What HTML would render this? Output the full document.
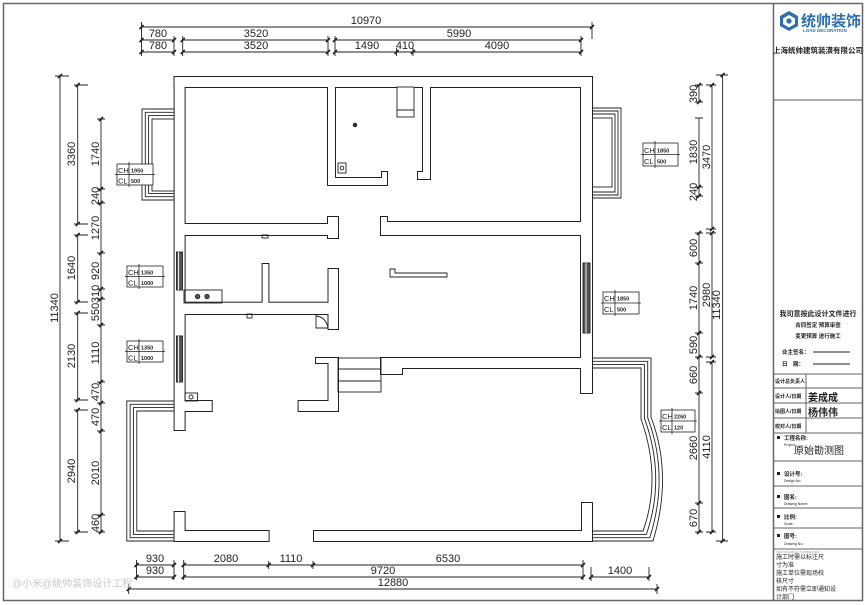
<!DOCTYPE html>
<html><head><meta charset="utf-8"><style>
html,body{margin:0;padding:0;background:#fff}
svg{display:block}
text{font-family:"Liberation Sans Narrow","Liberation Sans",sans-serif;fill:#222}
.cj{font-family:"Liberation Sans","Noto Sans CJK SC",sans-serif}
</style></head><body>
<svg width="865" height="605" viewBox="0 0 865 605" xmlns="http://www.w3.org/2000/svg">
<rect x="0" y="0" width="865" height="605" fill="#fff"/>
<rect x="3.5" y="3.5" width="859" height="597" fill="none" stroke="#666" stroke-width="1.5"/>
<line x1="773.5" y1="3.5" x2="773.5" y2="600.5" stroke="#666" stroke-width="1.5"/>

<!-- TOP DIMENSIONS -->
<g stroke="#222" stroke-width="0.9" fill="none">
<line x1="141.5" y1="27" x2="592" y2="27"/>
<line x1="592" y1="22" x2="592" y2="39"/>
<line x1="141.5" y1="22" x2="141.5" y2="56"/>
<line x1="141.5" y1="40" x2="174" y2="40"/><line x1="182.7" y1="40" x2="328" y2="40"/><line x1="335" y1="40" x2="581" y2="40"/>
<line x1="141.5" y1="52" x2="174" y2="52"/><line x1="182.7" y1="52" x2="328" y2="52"/><line x1="335" y1="52" x2="581" y2="52"/>
<g stroke-width="1.6">
<path d="M139.5 29l4-4M590 29l4-4M139.5 42l4-4M172 42l4-4M180.7 42l4-4M326 42l4-4M333 42l4-4M579 42l4-4M139.5 54l4-4M172 54l4-4M180.7 54l4-4M326 54l4-4M333 54l4-4M394.6 54l4-4M411 54l4-4M579 54l4-4"/>
</g>
<path d="M174 36v20M182.7 36v20M328 36v20M335 36v20M581 36v20M396.6 48v8M413 48v8"/>
</g>
<g font-size="11" text-anchor="middle">
<text x="366" y="24">10970</text>
<text x="158" y="37">780</text><text x="256" y="37">3520</text><text x="459" y="37">5990</text>
<text x="158" y="49">780</text><text x="256" y="49">3520</text><text x="367" y="49">1490</text><text x="405" y="49">410</text><text x="497" y="49">4090</text>
</g>

<!-- LEFT DIMENSIONS -->
<g stroke="#222" stroke-width="0.9" fill="none">
<line x1="60" y1="76" x2="60" y2="541"/>
<path d="M55 76h14M55 541h14"/>
<line x1="77.7" y1="85" x2="77.7" y2="224"/><line x1="77.7" y1="235" x2="77.7" y2="302"/><line x1="77.7" y1="313" x2="77.7" y2="400"/><line x1="77.7" y1="410" x2="77.7" y2="532"/>
<path d="M74 85h14M74 224h14M74 235h14M74 302h14M74 313h14M74 400h14M74 410h14M74 532h14"/>
<line x1="101" y1="119" x2="101" y2="532"/>
<path d="M97 119h8M97 189h8M97 203h8M97 253h8M97 289h8M97 299h8M97 325h8M97 382h8M97 403h8M97 431h8M97 515h8M97 532h8"/>
<g stroke-width="1.6"><path d="M58 78l4-4M58 543l4-4M75.7 87l4-4M75.7 226l4-4M75.7 237l4-4M75.7 304l4-4M75.7 315l4-4M75.7 402l4-4M75.7 412l4-4M75.7 534l4-4M99 121l4-4M99 191l4-4M99 205l4-4M99 255l4-4M99 291l4-4M99 301l4-4M99 327l4-4M99 384l4-4M99 405l4-4M99 433l4-4M99 517l4-4M99 534l4-4"/></g>
</g>
<g font-size="11" text-anchor="middle">
<text transform="translate(58,308) rotate(-90)">11340</text>
<text transform="translate(75,154) rotate(-90)">3360</text>
<text transform="translate(75,268) rotate(-90)">1640</text>
<text transform="translate(75,356) rotate(-90)">2130</text>
<text transform="translate(75,471) rotate(-90)">2940</text>
<text transform="translate(99,154) rotate(-90)">1740</text>
<text transform="translate(99,196) rotate(-90)">240</text>
<text transform="translate(99,228) rotate(-90)">1270</text>
<text transform="translate(99,271) rotate(-90)">920</text>
<text transform="translate(99,294) rotate(-90)">310</text>
<text transform="translate(99,312) rotate(-90)">550</text>
<text transform="translate(99,353) rotate(-90)">1110</text>
<text transform="translate(99,392) rotate(-90)">470</text>
<text transform="translate(99,417) rotate(-90)">470</text>
<text transform="translate(99,473) rotate(-90)">2010</text>
<text transform="translate(99,523) rotate(-90)">460</text>
</g>

<!-- RIGHT DIMENSIONS -->
<g stroke="#222" stroke-width="0.9" fill="none">
<line x1="722.6" y1="75" x2="722.6" y2="541"/>
<path d="M716 75h12M716 541h12"/>
<line x1="712" y1="85" x2="712" y2="229"/><line x1="712" y1="233" x2="712" y2="357"/><line x1="712" y1="362" x2="712" y2="532"/>
<path d="M706 85h10M706 229h10M706 233h10M706 357h10M706 362h10M706 532h10"/>
<line x1="699" y1="85" x2="699" y2="102"/><line x1="699" y1="118" x2="699" y2="196"/><line x1="699" y1="233" x2="699" y2="532"/>
<path d="M695 85h8M695 102h8M695 118h8M695 187h8M695 196h8M695 233h8M695 263h8M695 333h8M695 357h8M695 393h8M695 503h8M695 532h8"/>
<g stroke-width="1.6"><path d="M720.6 77l4-4M720.6 543l4-4M710 87l4-4M710 231l4-4M710 235l4-4M710 359l4-4M710 364l4-4M710 534l4-4M697 87l4-4M697 104l4-4M697 189l4-4M697 198l4-4M697 235l4-4M697 265l4-4M697 335l4-4M697 359l4-4M697 395l4-4M697 505l4-4M697 534l4-4"/></g>
</g>
<g font-size="11" text-anchor="middle">
<text transform="translate(720,305) rotate(-90)">11340</text>
<text transform="translate(710,157) rotate(-90)">3470</text>
<text transform="translate(710,295) rotate(-90)">2980</text>
<text transform="translate(710,447) rotate(-90)">4110</text>
<text transform="translate(697,94) rotate(-90)">390</text>
<text transform="translate(697,152) rotate(-90)">1830</text>
<text transform="translate(697,192) rotate(-90)">240</text>
<text transform="translate(697,248) rotate(-90)">600</text>
<text transform="translate(697,298) rotate(-90)">1740</text>
<text transform="translate(697,345) rotate(-90)">590</text>
<text transform="translate(697,375) rotate(-90)">660</text>
<text transform="translate(697,448) rotate(-90)">2660</text>
<text transform="translate(697,518) rotate(-90)">670</text>
</g>

<!-- BOTTOM DIMENSIONS -->
<g stroke="#222" stroke-width="0.9" fill="none">
<line x1="136.5" y1="565" x2="174" y2="565"/><line x1="183.7" y1="565" x2="583" y2="565"/>
<line x1="136.5" y1="577" x2="174" y2="577"/><line x1="183.7" y1="577" x2="583" y2="577"/><line x1="591" y1="577" x2="649" y2="577"/>
<line x1="128.7" y1="589" x2="657" y2="589"/>
<path d="M136.5 560v20M174 560v20M183.7 560v20M268.7 561v8M313 561v8M583 560v20M591 567v14M649 567v14M128.7 584v10M657 584v10"/>
<g stroke-width="1.6"><path d="M134.5 567l4-4M172 567l4-4M181.7 567l4-4M266.7 567l4-4M311 567l4-4M581 567l4-4M134.5 579l4-4M172 579l4-4M181.7 579l4-4M581 579l4-4M589 579l4-4M647 579l4-4M126.7 591l4-4M655 591l4-4"/></g>
</g>
<g font-size="11" text-anchor="middle">
<text x="155" y="562">930</text><text x="226" y="562">2080</text><text x="291" y="562">1110</text><text x="448" y="562">6530</text>
<text x="155" y="574">930</text><text x="383" y="574">9720</text><text x="620" y="574">1400</text>
<text x="393" y="586">12880</text>
</g>
<text x="12" y="587" font-size="10" class="cj" fill="#c8c8c8" style="fill:#c8c8c8">@小米@统帅装饰设计工程</text>

<!-- BAYS / BALCONIES -->
<g stroke="#222" stroke-width="0.9" fill="none">
<path d="M174.6 109H142V200H174.6M174.6 112.3H145.3V196.7H174.6M174.6 115.6H148.6V193.4H174.6"/>
<rect x="152" y="119" width="22.6" height="72"/>
<path d="M592 108H621V198H592M592 111H618V195H592M592 114H615V192H592"/>
<rect x="592" y="118" width="20" height="69"/>
<path d="M174.6 401H126.8V541H174.6M174.6 404.3H130.1V537.7H174.6M174.6 407.6H133.4V534.4H174.6M174.6 411H136.8V531H174.6"/>
<path d="M591 358H651V417Q673 475 653 541H591"/>
<path d="M591 361.3H647.7V417.6Q669.5 476 649.7 537.7H591"/>
<path d="M591 364.6H644.4V418.2Q666 477 646.4 534.4H591"/>
<path d="M591 368H641V419Q662 478 643 531H591"/>
</g>

<!-- WALLS: stroke pass then fill pass -->
<defs>
<g id="walls">
<rect x="174.6" y="77" width="417.4" height="10"/>
<rect x="174.6" y="77" width="10" height="353"/>
<rect x="581" y="77" width="11" height="316"/>
<rect x="174.6" y="531" width="94" height="10"/>
<rect x="314" y="531" width="278" height="10"/>
<rect x="174.6" y="512" width="10" height="29"/>
<rect x="582" y="503" width="10" height="38"/>
<rect x="328" y="87" width="7" height="98"/>
<rect x="328" y="178" width="59" height="7"/>
<rect x="382" y="172" width="5" height="13"/>
<rect x="423" y="87" width="7" height="92"/>
<rect x="418" y="172" width="12" height="7"/>
<rect x="184" y="224" width="154" height="11"/>
<rect x="328" y="217" width="10" height="21"/>
<rect x="381" y="222" width="200" height="13"/>
<rect x="381" y="217" width="6" height="18"/>
<rect x="184" y="302.7" width="144.5" height="11.3"/>
<rect x="328.5" y="269" width="9.5" height="60"/>
<rect x="262.6" y="264" width="5.8" height="39"/>
<rect x="381" y="358" width="200" height="10"/>
<rect x="381" y="368" width="21" height="6"/>
<rect x="328.5" y="358" width="9.5" height="53"/>
<rect x="298.6" y="401" width="39.4" height="10"/>
<rect x="316" y="358" width="12.5" height="5"/>
<rect x="184" y="401" width="27.7" height="10"/>
</g>
</defs>
<use href="#walls" fill="#222" stroke="#222" stroke-width="2"/>
<use href="#walls" fill="#fff" stroke="none"/>

<!-- windows -->
<g stroke="#222" stroke-width="0.9" fill="none">
<rect x="176.5" y="252" width="6" height="38" fill="#555"/>
<rect x="176.5" y="336" width="6" height="46" fill="#555"/>
<rect x="583" y="263" width="7" height="70" fill="#555"/>
<line x1="178.5" y1="252" x2="178.5" y2="290" stroke="#fff"/><line x1="178.5" y1="336" x2="178.5" y2="382" stroke="#fff"/><line x1="586" y1="263" x2="586" y2="333" stroke="#fff"/>
<!-- fixtures -->
<rect x="397" y="87" width="17" height="30" fill="#fff"/><line x1="397" y1="110" x2="414" y2="110"/>
<rect x="338" y="163" width="8" height="10"/><circle cx="342" cy="168" r="1.8"/>
<circle cx="355" cy="125" r="1.8" fill="#333"/>
<rect x="184" y="290" width="38" height="13"/>
<circle cx="197.6" cy="296.5" r="2.2" fill="#555"/><circle cx="207" cy="296.5" r="2.2" fill="#555"/>
<rect x="185" y="393" width="12.6" height="8"/><circle cx="191" cy="397" r="2"/>
<path d="M390 269H395V273H447V277H390Z"/>
<rect x="338" y="358" width="43" height="34"/>
<line x1="338" y1="369" x2="381" y2="369"/><line x1="338" y1="381" x2="381" y2="381"/>
<path d="M316 314V328H328.5M316 316Q326 317 328 328"/>
<rect x="247" y="314" width="5" height="4"/>
<rect x="262" y="235" width="6" height="3"/>
</g>

<!-- CH/CL boxes -->
<g id="b" font-size="7">
</g>
<g stroke="#222" stroke-width="0.8" fill="#fff">
<rect x="117" y="164" width="36" height="21"/><path d="M115 174.5h40M129 162v25" fill="none"/>
<rect x="127" y="266" width="36" height="21"/><path d="M125 276.5h40M139 264v25" fill="none"/>
<rect x="127" y="341" width="36" height="21"/><path d="M125 351.5h40M139 339v25" fill="none"/>
<rect x="643" y="143" width="35" height="23"/><path d="M641 154.5h39M655 141v27" fill="none"/>
<rect x="603" y="292" width="36" height="22"/><path d="M601 303h40M615 290v26" fill="none"/>
<rect x="661" y="410" width="34" height="22"/><path d="M659 421h38M672 408v26" fill="none"/>
</g>
<g font-size="7.5">
<text x="118" y="173">CH</text><text x="118" y="183.5">CL</text><text x="131" y="172.5" font-size="5.5" font-weight="bold">1950</text><text x="131" y="183" font-size="5.5" font-weight="bold">500</text>
<text x="128" y="275">CH</text><text x="128" y="285.5">CL</text><text x="141" y="274.5" font-size="5.5" font-weight="bold">1350</text><text x="141" y="285" font-size="5.5" font-weight="bold">1000</text>
<text x="128" y="350">CH</text><text x="128" y="360.5">CL</text><text x="141" y="349.5" font-size="5.5" font-weight="bold">1350</text><text x="141" y="360" font-size="5.5" font-weight="bold">1000</text>
<text x="644" y="153">CH</text><text x="644" y="164">CL</text><text x="657" y="152.5" font-size="5.5" font-weight="bold">1850</text><text x="657" y="163.5" font-size="5.5" font-weight="bold">500</text>
<text x="604" y="301">CH</text><text x="604" y="312">CL</text><text x="617" y="300.5" font-size="5.5" font-weight="bold">1850</text><text x="617" y="311.5" font-size="5.5" font-weight="bold">500</text>
<text x="662" y="419">CH</text><text x="662" y="430">CL</text><text x="674" y="418.5" font-size="5.5" font-weight="bold">2260</text><text x="674" y="429.5" font-size="5.5" font-weight="bold">120</text>
</g>

<!-- TITLE BLOCK -->
<g stroke="#666" stroke-width="1" fill="none">
<line x1="773.5" y1="100" x2="862" y2="100"/>
<line x1="773.5" y1="374" x2="862" y2="374"/>
<line x1="773.5" y1="388" x2="862" y2="388"/>
<line x1="773.5" y1="403" x2="862" y2="403"/>
<line x1="773.5" y1="418" x2="862" y2="418"/>
<line x1="773.5" y1="433" x2="862" y2="433"/>
<line x1="806" y1="374" x2="806" y2="433"/>
<line x1="773.5" y1="461" x2="862" y2="461"/>
<line x1="773.5" y1="486" x2="862" y2="486"/>
<line x1="773.5" y1="508" x2="862" y2="508"/>
<line x1="773.5" y1="528" x2="862" y2="528"/>
<line x1="773.5" y1="549" x2="862" y2="549"/>
<line x1="813" y1="352" x2="850" y2="352" stroke="#222"/>
<line x1="813" y1="364" x2="850" y2="364" stroke="#222"/>
</g>
<!-- logo -->
<g>
<polygon points="789,11 798,16 798,26 789,31 780,26 780,16" fill="#2e6fae"/>
<polygon points="789,15 795,18.5 795,24 789,27.5 783,24 783,18.5" fill="#fff"/>
<circle cx="789" cy="21" r="2.6" fill="#2e6fae"/>
</g>
<text x="801" y="26" class="cj" font-size="15" font-weight="bold" style="fill:#2e6fae">统帅装饰</text>
<text x="803" y="32" font-size="4.5" style="fill:#2e6fae" font-weight="bold">LOAD DECORATION</text>
<text x="818" y="53" class="cj" font-size="7.5" font-weight="bold" text-anchor="middle">上海统帅建筑装潢有限公司</text>
<text x="818" y="316" class="cj" font-size="7" font-weight="bold" text-anchor="middle">我司意按此设计文件进行</text>
<text x="818" y="327" class="cj" font-size="5.5" font-weight="bold" text-anchor="middle">合同签定 预算审查</text>
<text x="818" y="338" class="cj" font-size="5.5" font-weight="bold" text-anchor="middle">变更预算 进行施工</text>
<text x="782" y="354" class="cj" font-size="5.5" font-weight="bold">业主签名：</text>
<text x="782" y="366" class="cj" font-size="5.5" font-weight="bold">日　期：</text>
<text x="775" y="383" class="cj" font-size="5" font-weight="bold">设计总负责人</text>
<text x="775" y="398" class="cj" font-size="5" font-weight="bold">设计人/日期</text>
<text x="775" y="413" class="cj" font-size="5" font-weight="bold">绘图人/日期</text>
<text x="775" y="428" class="cj" font-size="5" font-weight="bold">校对人/日期</text>
<text x="808" y="401" class="cj" font-size="10" font-weight="bold">姜成成</text>
<text x="808" y="416" class="cj" font-size="10" font-weight="bold">杨伟伟</text>
<rect x="777" y="436" width="3" height="3" fill="#222"/>
<text x="784" y="440" class="cj" font-size="5.5" font-weight="bold">工程名称:</text>
<text x="784" y="446" font-size="3.5">Project:</text>
<text x="819" y="454" class="cj" font-size="10" text-anchor="middle">原始勘测图</text>
<rect x="777" y="472" width="3" height="3" fill="#222"/>
<text x="784" y="476" class="cj" font-size="5.5" font-weight="bold">设计号:</text><text x="784" y="482" font-size="3.5">Design No:</text>
<rect x="777" y="495" width="3" height="3" fill="#222"/>
<text x="784" y="499" class="cj" font-size="5.5" font-weight="bold">图名:</text><text x="784" y="505" font-size="3.5">Drawing Name:</text>
<rect x="777" y="515" width="3" height="3" fill="#222"/>
<text x="784" y="519" class="cj" font-size="5.5" font-weight="bold">比例:</text><text x="784" y="525" font-size="3.5">Scale:</text>
<rect x="777" y="534" width="3" height="3" fill="#222"/>
<text x="784" y="538" class="cj" font-size="5.5" font-weight="bold">图号:</text><text x="784" y="545" font-size="3.5">Drawing No.:</text>
<g class="cj" font-size="6" style="fill:#777">
<text x="776" y="553" font-size="3" style="fill:#999">THIS DRAWING IS APPROVED</text>
<text x="776" y="559">施工时需以标注尺</text>
<text x="776" y="567">寸为准</text>
<text x="776" y="575">施工单位需现场校</text>
<text x="776" y="583">核尺寸</text>
<text x="776" y="591">如有不符需立即通知设</text>
<text x="776" y="599">计部门</text>
</g>
</svg>
</body></html>
